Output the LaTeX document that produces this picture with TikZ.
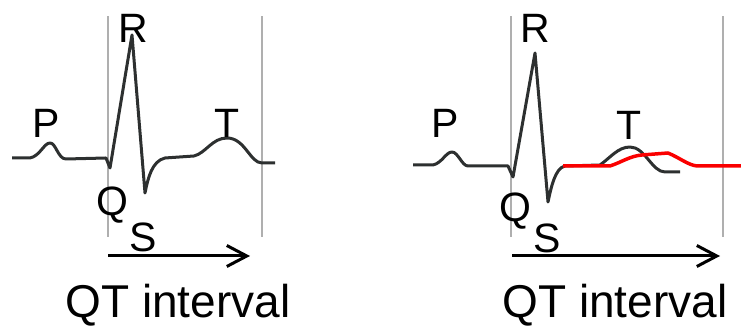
\documentclass[tikz,border=0pt]{standalone}
\usepackage{fontspec}
\setmainfont{Liberation Sans}
\usetikzlibrary{arrows.meta}
\definecolor{tracegray}{RGB}{45,48,48}
\definecolor{gridgray}{RGB}{175,175,175}
\definecolor{longred}{RGB}{250,0,0}

\begin{document}
\begin{tikzpicture}[x=1pt,y=1pt,>={Straight Barb[length=20pt,width=21pt]},
    wave/.style={tracegray,line width=3pt,line join=round},
    wavelbl/.style={anchor=base,inner sep=0pt,font=\fontsize{41}{44}\selectfont},
    qtlbl/.style={anchor=base,inner sep=0pt,font=\fontsize{46}{50}\selectfont}]
        \useasboundingbox (0,0) rectangle (741,328);
        % vertical markers
        \foreach \x/\w in {108/1.5,262/1.5,511/2.4,723/2.4}{
          \draw[gridgray,line width=\w pt] (\x,91) -- (\x,312);
        }
        % normal trace
        \draw[wave] (12,170) -- (30,170) .. controls (40,172) and (44,185) .. (50,185)
          .. controls (56,185) and (58,169) .. (66,169) -- (106,170) -- (110,160)
          -- (132,293) -- (145,135) .. controls (148,150) and (152,167) .. (165,170)
          -- (194,172) .. controls (206,175) and (212,190) .. (227,190)
          .. controls (245,190) and (250,165) .. (262,165) -- (275,165);
        % long QT trace
        \draw[wave] (413,163) -- (433,163) .. controls (442,165) and (446,176) .. (452,176)
          .. controls (458,176) and (462,162) .. (468,162) -- (508,162) -- (513,151)
          -- (535,275) -- (548,126) .. controls (551,140) and (555,160) .. (565,162)
          -- (600,163) .. controls (610,170) and (618,181) .. (630,181)
          .. controls (645,181) and (652,156) .. (665,156) -- (680,156);
        \draw[longred,line width=3.5pt,line join=round] (563,162) -- (610,162)
          .. controls (622,166) and (630,172) .. (642,173) -- (668,175)
          .. controls (680,170) and (688,163) .. (697,162) -- (741,162);
        % labels
        \node[wavelbl] (p1) at (46,190) {P};
        \node[wavelbl] (r1) at (133,285) {R};
        \node[wavelbl] (t1) at (227,190) {T};
        \node[wavelbl] (q1) at (112,112) {Q};
        \node[wavelbl] (s1) at (143,76) {S};
        \node[wavelbl] (p2) at (445,190) {P};
        \node[wavelbl] (r2) at (535,285) {R};
        \node[wavelbl] (t2) at (629,188) {T};
        \node[wavelbl] (q2) at (515,106) {Q};
        \node[wavelbl] (s2) at (547,75) {S};
        % intervals
        \coordinate (qa1) at (108,72);
        \coordinate (qb1) at (250,72);
        \coordinate (qa2) at (512,72);
        \coordinate (qb2) at (720,72);
        \draw[->,line width=3pt] (qa1) -- (qb1);
        \draw[->,line width=3pt] (qa2) -- (qb2);
        \node[qtlbl] (qt1) at (178,10) {QT interval};
        \node[qtlbl] (qt2) at (615,10) {QT interval};
      \end{tikzpicture}
\end{document}
